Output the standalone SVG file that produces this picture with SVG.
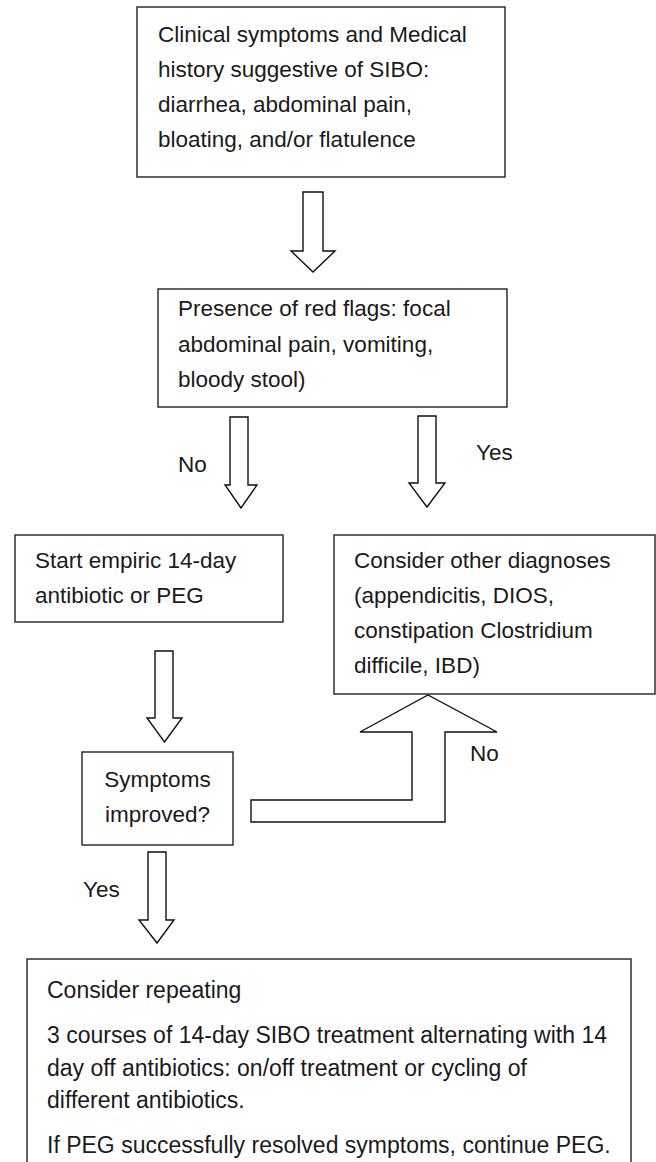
<svg xmlns="http://www.w3.org/2000/svg" width="656" height="1162" viewBox="0 0 656 1162">
<style>
.box{fill:#fff;stroke:#222;stroke-width:1.4}
.arr{fill:#fff;stroke:#111;stroke-width:1.4;stroke-linejoin:miter}
text{font-family:"Liberation Sans",Arial,sans-serif;font-size:22.5px;fill:#1a1a1a}
.big{font-size:23px}
.c{text-anchor:middle}
</style>
<rect width="656" height="1162" fill="#fff"/>
<g id="n1">
<rect class="box" x="137" y="7" width="368" height="170"/>
<text x="158" y="42">Clinical symptoms and Medical</text>
<text x="158" y="77">history suggestive of SIBO:</text>
<text x="158" y="112">diarrhea, abdominal pain,</text>
<text x="158" y="147">bloating, and/or flatulence</text>
</g>
<g id="n2">
<rect class="box" x="158" y="289" width="349" height="118"/>
<text x="178" y="316">Presence of red flags: focal</text>
<text x="178" y="352">abdominal pain, vomiting,</text>
<text x="178" y="387">bloody stool)</text>
</g>
<g id="n3">
<rect class="box" x="15" y="535" width="268" height="87"/>
<text x="35" y="568">Start empiric 14-day</text>
<text x="35" y="603">antibiotic or PEG</text>
</g>
<g id="n4">
<rect class="box" x="334" y="535" width="321" height="159"/>
<text x="354" y="568">Consider other diagnoses</text>
<text x="354" y="603">(appendicitis, DIOS,</text>
<text x="354" y="638">constipation Clostridium</text>
<text x="354" y="673">difficile, IBD)</text>
</g>
<g id="n5">
<rect class="box" x="82" y="752" width="151" height="93"/>
<text class="c" x="157.5" y="787">Symptoms</text>
<text class="c" x="157.5" y="822">improved?</text>
</g>
<g id="n6">
<rect class="box" x="27" y="959" width="604" height="260"/>
<text class="big" x="47" y="998">Consider repeating</text>
<text class="big" x="47" y="1043">3 courses of 14-day SIBO treatment alternating with 14</text>
<text class="big" x="47" y="1076">day off antibiotics: on/off treatment or cycling of</text>
<text class="big" x="47" y="1108">different antibiotics.</text>
<text class="big" x="47" y="1153">If PEG successfully resolved symptoms, continue PEG.</text>
</g>
<g id="connectors">
<polygon class="arr" points="303,192 323,192 323,251 335,251 313,272 291,251 303,251"/>
<polygon class="arr" points="230,417 248,417 248,485 257,485 241,508 225,485 230,485"/>
<polygon class="arr" points="418,416 436,416 436,483 445,483 427,507 409,483 418,483"/>
<polygon class="arr" points="155,651 173,651 173,718 182,718 164.5,742 147,718 155,718"/>
<polygon class="arr" points="148,852 166,852 166,920 174,920 157,943 139,920 148,920"/>
<polygon class="arr" points="251,800 412,800 412,732 360,732 428,695 497,732 445,732 445,822 251,822"/>
<text x="178" y="472">No</text>
<text x="476" y="460">Yes</text>
<text x="470" y="761">No</text>
<text x="83" y="897">Yes</text>
</g>
</svg>
